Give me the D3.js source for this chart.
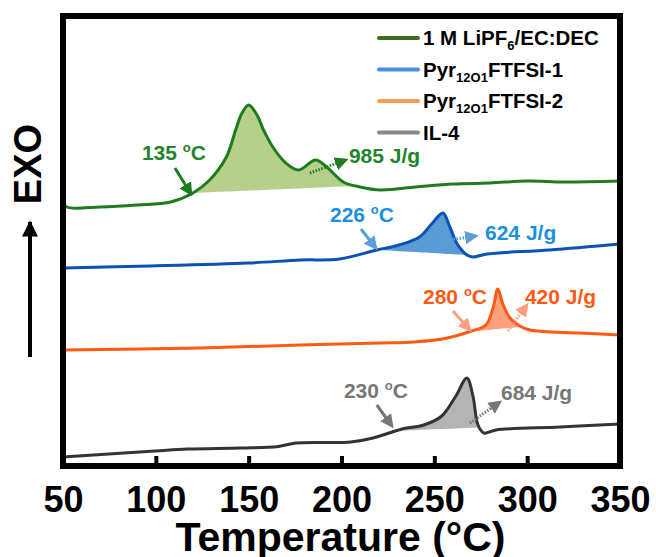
<!DOCTYPE html>
<html>
<head>
  <meta charset="utf-8">
  <title>DSC curves</title>
  <script src="https://d3js.org/d3.v7.min.js"></script>
  <style>
    body { margin: 0; background: #fff; }
    text { font-family: "Liberation Sans", Arial, sans-serif; font-weight: bold; }
  </style>
</head>
<body>
<script type="text/javascript">

  var w = 656;
  var h = 557;

  // temperatures (°C) / heat flow (a.u., offset)
  var greenData = [[50,26.4],[52,25.9],[70,25.9],[90,26.1],[108,26.4],[120,27.3],[129,28.6],[138,30.9],[143,33.6],[146.4,35.3],[150,36.1],[154.5,35.1],[158,33.6],[163,31.9],[170,30.3],[177,29.6],[186,30.6],[192,29.9],[201,28.4],[210,27.9],[221,27.6],[240,27.9],[260,28.2],[280,28.3],[300,28.5],[320,28.4],[350,28.5]];
  var blueData = [[50,19.8],[97,20.0],[150,20.3],[178,20.6],[199,20.7],[219,21.6],[231,22.1],[242,22.9],[249,24.3],[254.6,25.3],[258.4,23.9],[262,22.3],[267.6,21.1],[270.8,20.9],[278.3,21.2],[312,21.6],[350,22.2]];
  var orangeData = [[50,11.6],[124,11.8],[178,12.1],[221,12.3],[239,12.4],[257,12.8],[270,13.5],[277.8,14.1],[281.6,15.8],[284.2,17.7],[286.9,16.2],[290.7,14.8],[296,14.0],[301.5,13.6],[328,13.3],[350,13.1]];
  var grayData = [[50,0.9],[99.5,1.5],[117,1.7],[146,1.8],[166,1.95],[175.5,2.3],[205,2.4],[217,2.8],[232.6,3.7],[244.4,4.1],[254,5.0],[261.6,7.0],[267.5,8.8],[270.8,7.0],[273.5,4.1],[276.7,3.3],[283.2,3.6],[317.6,3.9],[350,4.2]];

  var seriesNames = ["1 M LiPF6/EC:DEC", "Pyr12O1FTFSI-1", "Pyr12O1FTFSI-2", "IL-4"];
  var xTicks = [50, 100, 150, 200, 250, 300, 350];

  // peak integration window (°C)
  var fillRanges = [[120, 208], [219, 267.6], [268, 297], [229, 274.5]];
  var onsetLabels = ["135 ", "226 ", "280 ", "230 "];
  var enthalpyLabels = ["985 J/g", "624 J/g", "420 J/g", "684 J/g"];

  // annotation anchors in data units: text pos, arrow start, arrow end
  var onsetText = [[92.5,30.6],[193.8,24.4],[243.9,16.2],[201.3,6.8]];
  var onsetArrow = [[[110.3,29.8],[118.9,27.2]],[[210.5,23.7],[218.5,21.8]],[[260,15.5],[269.2,13.6]],[[219,6.1],[227.2,4.0]]];
  var enthText = [[204,30.3],[277.3,22.6],[298.8,16.2],[285.9,6.6]];
  var enthArrow = [[[183,29.3],[202.4,30.6]],[[254,22.5],[272.4,23.0]],[[289.6,13.5],[299.9,16.1]],[[269.2,4.3],[285.3,6.4]]];

  var lineColors = ["#1e7b1e", "#0b52b5", "#ff5a14", "#333333"];
  var fillColors = ["#b6d08c", "#5b9bd5", "#ffa07e", "#b4b4b4"];
  var textColors = ["#23852b", "#1b8fe0", "#ff5a14", "#777777"];
  var arrowColors = ["#1e7b1e", "#5aa0d8", "#ff9f80", "#777777"];
  var legendColors = ["#3b6e1a", "#4a90e2", "#ff9a55", "#888888"];

  var allData = [greenData, blueData, orangeData, grayData];

  var svg = d3.select("body").append("svg")
          .attr("width", w)
          .attr("height", h);

  var pLeft = 63, pRight = 620, pTop = 16, pBottom = 466;

  var xScale = d3.scaleLinear().domain([50, 350]).range([pLeft, pRight]);
  var yScale = d3.scaleLinear().domain([0, 45]).range([pBottom, pTop]);

  // arrow heads
  var defs = svg.append("defs");
  arrowColors.forEach(function(c, i){
    defs.append("marker")
        .attr("id", "head" + i)
        .attr("viewBox", "0 0 10 10")
        .attr("refX", 8).attr("refY", 5)
        .attr("markerWidth", 4.5).attr("markerHeight", 4.5)
        .attr("markerUnits", "strokeWidth")
        .attr("orient", "auto")
      .append("path")
        .attr("d", "M0,0 L10,5 L0,10 z")
        .attr("fill", c);
  });

  function interp(data, t){
    for (var i = 1; i < data.length; i++){
      if (t <= data[i][0]){
        var a = data[i-1], b = data[i];
        return a[1] + (b[1] - a[1]) * (t - a[0]) / (b[0] - a[0]);
      }
    }
    return data[data.length-1][1];
  }

  var line = d3.line()
      .x(function(d){ return xScale(d[0]); })
      .y(function(d){ return yScale(d[1]); })
      .curve(d3.curveCatmullRom.alpha(0.5));

  // peak fills
  allData.forEach(function(data, i){
    var r = fillRanges[i];
    var v0 = interp(data, r[0]), v1 = interp(data, r[1]);
    var pts = [[r[0], v0]].concat(data.filter(function(d){ return d[0] > r[0] && d[0] < r[1]; }), [[r[1], v1]]);
    var base = function(t){ return v0 + (v1 - v0) * (t - r[0]) / (r[1] - r[0]); };
    var area = d3.area()
        .x(function(d){ return xScale(d[0]); })
        .y0(function(d){ return yScale(base(d[0])); })
        .y1(function(d){ return yScale(d[1]); })
        .curve(d3.curveCatmullRom.alpha(0.5));
    svg.append("path").attr("d", area(pts)).attr("fill", fillColors[i]);
  });

  // curves
  allData.forEach(function(data, i){
    svg.append("path")
        .attr("d", line(data))
        .attr("fill", "none")
        .attr("stroke", lineColors[i])
        .attr("stroke-width", 3);
  });

  // annotations
  for (var i = 0; i < 4; i++){
    var t = svg.append("text")
        .attr("x", xScale(onsetText[i][0]))
        .attr("y", yScale(onsetText[i][1]))
        .attr("fill", textColors[i])
        .attr("font-size", 21);
    t.append("tspan").text(onsetLabels[i]);
    t.append("tspan").attr("font-size", 13).attr("dy", -8).text("o");
    t.append("tspan").attr("dy", 8).text("C");

    svg.append("text")
        .attr("x", xScale(enthText[i][0]))
        .attr("y", yScale(enthText[i][1]))
        .attr("fill", textColors[i])
        .attr("font-size", 21)
        .text(enthalpyLabels[i]);

    svg.append("line")
        .attr("x1", xScale(onsetArrow[i][0][0])).attr("y1", yScale(onsetArrow[i][0][1]))
        .attr("x2", xScale(onsetArrow[i][1][0])).attr("y2", yScale(onsetArrow[i][1][1]))
        .attr("stroke", arrowColors[i]).attr("stroke-width", 3)
        .attr("marker-end", "url(#head" + i + ")");

    svg.append("line")
        .attr("x1", xScale(enthArrow[i][0][0])).attr("y1", yScale(enthArrow[i][0][1]))
        .attr("x2", xScale(enthArrow[i][1][0])).attr("y2", yScale(enthArrow[i][1][1]))
        .attr("stroke", arrowColors[i]).attr("stroke-width", 3)
        .attr("stroke-dasharray", "1.5,1.5")
        .attr("marker-end", "url(#head" + i + ")");
  }

  // frame + ticks
  var xAxis = d3.axisBottom(xScale).tickValues(xTicks).tickSizeInner(-10).tickSizeOuter(0).tickPadding(20);
  var gx = svg.append("g").attr("transform", "translate(0," + pBottom + ")").call(xAxis);
  gx.select(".domain").remove();
  gx.selectAll(".tick line").attr("stroke", "#000").attr("stroke-width", 4)
      .filter(function(d){ return d === 50 || d === 350; }).remove();
  gx.selectAll(".tick text")
      .attr("font-family", "Liberation Sans, Arial, sans-serif")
      .attr("font-weight", "bold")
      .attr("font-size", 36)
      .attr("fill", "#000");

  svg.append("rect")
      .attr("x", pLeft).attr("y", pTop)
      .attr("width", pRight - pLeft).attr("height", pBottom - pTop)
      .attr("fill", "none").attr("stroke", "#000").attr("stroke-width", 6);

  svg.append("text")
      .attr("x", (pLeft + pRight) / 2 - 1)
      .attr("y", 551)
      .attr("text-anchor", "middle")
      .attr("font-size", 41)
      .text("Temperature (°C)");

  // EXO arrow
  defs.append("marker")
      .attr("id", "exoHead")
      .attr("viewBox", "0 0 10 10")
      .attr("refX", 9).attr("refY", 5)
      .attr("markerWidth", 8).attr("markerHeight", 4)
      .attr("markerUnits", "strokeWidth")
      .attr("orient", "auto")
    .append("path").attr("d", "M0,0 L10,5 L0,10 z").attr("fill", "#000");
  svg.append("line")
      .attr("x1", 30).attr("y1", 357).attr("x2", 30).attr("y2", 222)
      .attr("stroke", "#000").attr("stroke-width", 4)
      .attr("marker-end", "url(#exoHead)");
  svg.append("text")
      .attr("transform", "translate(41,164) rotate(-90)")
      .attr("text-anchor", "middle")
      .attr("font-size", 38)
      .text("EXO");

  // legend
  var legend = svg.append("g");
  seriesNames.forEach(function(name, i){
    var y = 38 + i * 31.5;
    legend.append("line")
        .attr("x1", 379).attr("x2", 418).attr("y1", y).attr("y2", y)
        .attr("stroke", legendColors[i]).attr("stroke-width", 4).attr("stroke-linecap", "round");
    var t = legend.append("text").attr("x", 423).attr("y", y + 7).attr("font-size", 20.5).attr("fill", "#000");
    if (i === 0){
      t.append("tspan").text("1 M LiPF");
      t.append("tspan").attr("font-size", 13).attr("dy", 5).text("6");
      t.append("tspan").attr("dy", -5).text("/EC:DEC");
    } else if (i < 3){
      t.append("tspan").text("Pyr");
      t.append("tspan").attr("font-size", 13).attr("dy", 5).text("12O1");
      t.append("tspan").attr("dy", -5).text("FTFSI-" + i);
    } else {
      t.text(name);
    }
  });

</script>
</body>
</html>
